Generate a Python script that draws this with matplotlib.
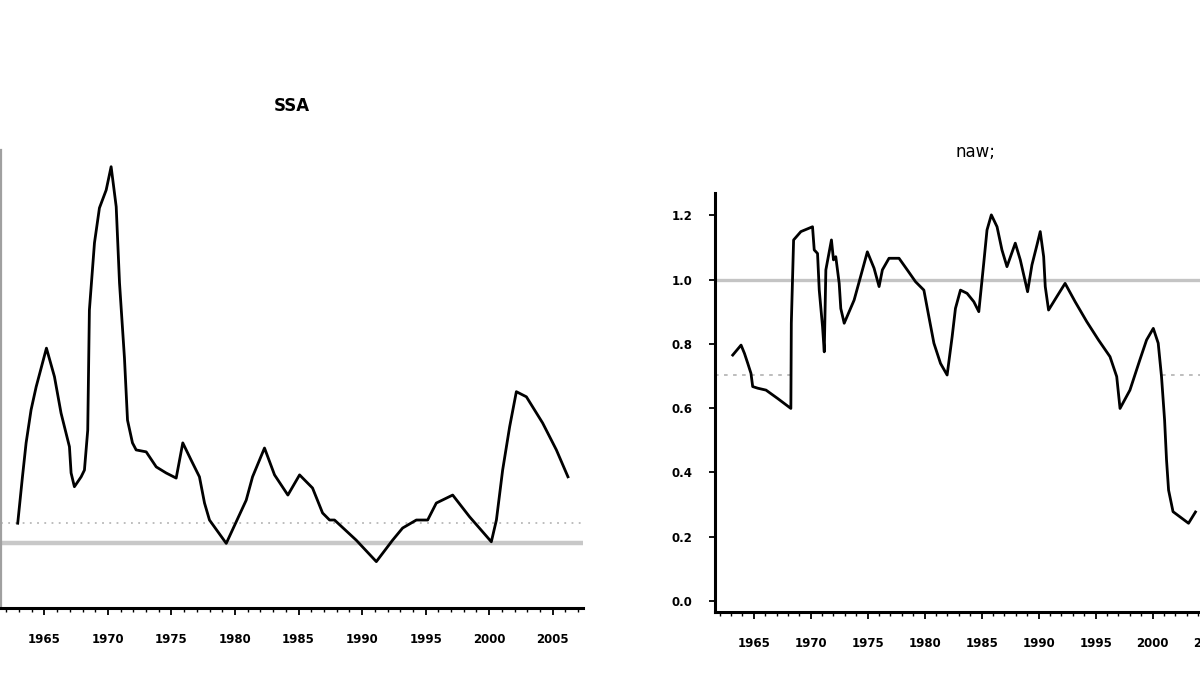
import matplotlib
matplotlib.use("Agg")
import matplotlib.pyplot as plt
from matplotlib.ticker import MultipleLocator

# left panel series (year, value)
left_years = [1962.90, 1963.27, 1963.56, 1963.95, 1964.35, 1965.16, 1965.79, 1966.31, 1966.97,
              1967.10, 1967.36, 1967.89, 1968.15, 1968.41, 1968.54, 1968.94, 1969.33, 1969.86,
              1970.25, 1970.65, 1970.91, 1971.30, 1971.54, 1971.93, 1972.22, 1973.01, 1973.80,
              1974.58, 1975.37, 1975.89, 1976.55, 1977.20, 1977.60, 1977.99, 1979.31, 1980.88,
              1981.38, 1982.32, 1983.11, 1984.16, 1985.08, 1986.10, 1986.89, 1987.44, 1987.83,
              1989.54, 1991.12, 1992.40, 1993.19, 1994.27, 1995.16, 1995.84, 1997.13, 1998.46,
              2000.17, 2000.57, 2001.06, 2001.61, 2002.14, 2002.93, 2004.21, 2005.29, 2006.20]
left_vals = [1.062, 1.206, 1.313, 1.416, 1.488, 1.609, 1.520, 1.406, 1.301,
             1.219, 1.176, 1.207, 1.228, 1.353, 1.728, 1.938, 2.047, 2.103,
             2.176, 2.051, 1.813, 1.578, 1.384, 1.313, 1.291, 1.285, 1.238,
             1.219, 1.203, 1.313, 1.259, 1.207, 1.125, 1.072, 0.999, 1.134,
             1.207, 1.297, 1.213, 1.150, 1.213, 1.172, 1.094, 1.072, 1.072,
             1.009, 0.942, 1.009, 1.047, 1.072, 1.072, 1.125, 1.150, 1.082,
             1.004, 1.072, 1.228, 1.363, 1.473, 1.457, 1.375, 1.291, 1.207]
left_base = 1.0
left_ref = 1.0625

# right panel series (year, value)
right_years = [1963.16, 1963.89, 1964.19, 1964.48, 1964.76, 1964.91, 1965.35, 1966.08, 1967.10,
               1968.26, 1968.30, 1968.50, 1969.14, 1970.16, 1970.31, 1970.60, 1970.75, 1971.04,
               1971.19, 1971.33, 1971.82, 1972.00, 1972.20, 1972.50, 1972.64, 1972.94, 1973.81,
               1974.54, 1974.97, 1975.56, 1976.00, 1976.29, 1976.87, 1977.75, 1978.47, 1979.20,
               1979.93, 1980.37, 1980.81, 1981.39, 1981.97, 1982.41, 1982.70, 1983.14, 1983.72,
               1984.31, 1984.75, 1985.18, 1985.47, 1985.85, 1986.35, 1986.78, 1987.22, 1987.95,
               1988.39, 1989.03, 1989.41, 1989.85, 1990.14, 1990.44, 1990.58, 1990.87, 1991.60,
               1992.32, 1993.20, 1994.22, 1995.25, 1996.26, 1996.85, 1997.14, 1998.01, 1998.88,
               1999.47, 2000.06, 2000.49, 2000.78, 2001.05, 2001.22, 2001.40, 2001.79, 2003.15,
               2003.76]
right_vals = [0.765, 0.796, 0.770, 0.739, 0.708, 0.667, 0.662, 0.656, 0.630,
              0.599, 0.864, 1.123, 1.149, 1.164, 1.092, 1.081, 0.967, 0.853,
              0.775, 1.030, 1.123, 1.061, 1.071, 0.988, 0.910, 0.864, 0.936,
              1.030, 1.086, 1.035, 0.978, 1.030, 1.066, 1.066, 1.030, 0.993,
              0.967, 0.884, 0.802, 0.739, 0.703, 0.822, 0.910, 0.967, 0.957,
              0.931, 0.900, 1.050, 1.154, 1.201, 1.164, 1.092, 1.040, 1.113,
              1.061, 0.962, 1.045, 1.107, 1.149, 1.071, 0.978, 0.905, 0.947,
              0.988, 0.931, 0.869, 0.812, 0.760, 0.698, 0.599, 0.656, 0.750,
              0.812, 0.848, 0.802, 0.698, 0.563, 0.439, 0.345, 0.278, 0.242,
              0.277]
right_base = 1.0
right_ref = 0.703
right_ref_spans = [(1961.6, 1968.3), (2000.8, 2007.4)]

titles = ["SSA", "naw;"]
year_ticks = [1965, 1970, 1975, 1980, 1985, 1990, 1995, 2000, 2005]
right_yticks = [0.0, 0.2, 0.4, 0.6, 0.8, 1.0, 1.2]
xlim = (1961.6, 2007.4)

fig = plt.figure(figsize=(12, 6.96), dpi=100)
ax1 = fig.add_axes([0.001, 0.1264, 0.485, 0.658])
ax2 = fig.add_axes([0.5958, 0.1207, 0.435, 0.602])


def style(ax):
    for s in ["top", "right"]:
        ax.spines[s].set_visible(False)
    for s in ["left", "bottom"]:
        ax.spines[s].set_linewidth(2.2)
        ax.spines[s].set_color("black")
    ax.set_xlim(*xlim)
    ax.set_xticks(year_ticks)
    ax.set_xticklabels([str(y) for y in year_ticks], fontsize=8.5, fontweight="bold")
    ax.xaxis.set_minor_locator(MultipleLocator(1))
    ax.tick_params(axis="x", which="major", direction="out", length=5, width=1.3, pad=13)
    ax.tick_params(axis="x", which="minor", direction="out", length=3, width=1.0)


# left panel
style(ax1)
ax1.spines["left"].set_color("#a0a0a0")
ax1.spines["left"].set_linewidth(1.6)
ax1.set_ylim(0.797, 2.228)
ax1.set_yticks([])
ax1.axhline(left_base, color="#c8c8c8", lw=3.2, zorder=1)
ax1.axhline(left_ref, color="#b8b8b8", lw=1.3, ls=(0, (1, 3)), zorder=1)
ax1.plot(left_years, left_vals, color="black", lw=2.0, zorder=3)
ax1.set_title(titles[0], fontsize=12, fontweight="bold", pad=28)

# right panel
style(ax2)
ax2.set_ylim(-0.034, 1.269)
ax2.set_yticks(right_yticks)
ax2.set_yticklabels([f"{v:.1f}" for v in right_yticks], fontsize=8.5, fontweight="bold")
ax2.tick_params(axis="y", direction="out", length=4, width=1.3, pad=12)
ax2.axhline(right_base, color="#c4c4c4", lw=2.4, zorder=1)
for a, b in right_ref_spans:
    ax2.hlines(right_ref, a, b, color="#b8b8b8", lw=1.3, ls=(0, (2, 3)), zorder=1)
ax2.plot(right_years, right_vals, color="black", lw=2.0, zorder=3)
ax2.set_title(titles[1], fontsize=12, pad=26)

fig.savefig("out.png", dpi=100)
